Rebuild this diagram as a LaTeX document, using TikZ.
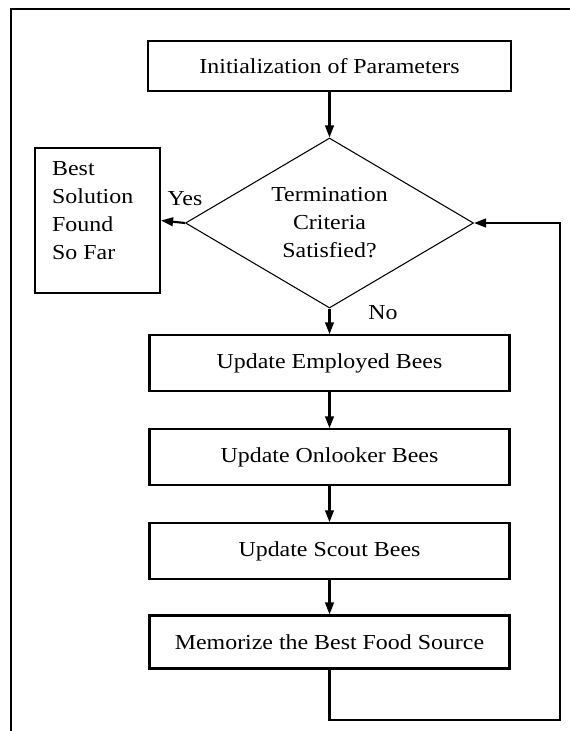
\documentclass[tikz,border=0pt]{standalone}
\usepackage{fontspec}
\setmainfont[FakeStretch=1.12]{Liberation Serif}
\usetikzlibrary{shapes.geometric, arrows.meta}

\begin{document}
\begin{tikzpicture}[x=0.75pt, y=-0.75pt,
  font=\fontsize{16}{21}\selectfont,
  box/.style={draw, line width=1.6pt, minimum width=270pt, minimum height=41.5pt, inner sep=0pt},
  decision/.style={draw, shape=diamond, shape aspect=1.69, line width=0.8pt, minimum width=216pt,
    minimum height=127.5pt, inner sep=0pt, align=center},
  flow/.style={line width=1.6pt, -{Triangle[length=9pt,width=6.5pt]}},
  framerule/.style={line width=1pt}]
\useasboundingbox (0,0) rectangle (570,731);

% page frame (left and top rules)
\coordinate (fbl) at (11,731);
\coordinate (ftl) at (11,9);
\coordinate (ftr) at (570,9);
\draw[framerule] (fbl) -- (ftl) -- (ftr);

% process steps
\node[box, minimum width=272.25pt, minimum height=37.5pt] (init) at (329.5,66) {Initialization of Parameters};
\node[decision] (dia) at (329.5,223) {Termination\\Criteria\\Satisfied?};
\node[draw, line width=1.6pt, minimum width=93.75pt, minimum height=108.75pt, inner sep=0pt,
  label={[anchor=north west, align=left, inner sep=0pt, xshift=13.5pt, yshift=-10.5pt]north west:Best\\Solution\\Found\\So Far}]
  (best) at (97.5,220.5) {};
\node[box] (emp) at (329.5,363) {Update Employed Bees};
\node[box] (onl) at (329.5,457) {Update Onlooker Bees};
\node[box] (sct) at (329.5,551) {Update Scout Bees};
\node[box, minimum height=39.75pt] (mem) at (329.5,642) {Memorize the Best Food Source};

% branch labels
\node (yes) at (185,199) {Yes};
\node (no) at (383,313) {No};

% connectors
\draw[flow] (init) -- (dia.north);
\draw[flow] (dia.west) -- (best.east);
\draw[flow] (dia.south) -- (emp);
\draw[flow] (emp) -- (onl);
\draw[flow] (onl) -- (sct);
\draw[flow] (sct) -- (mem);
\coordinate (loopbot) at (560,720);
\draw[flow] (mem.south) |- (loopbot) |- (dia.east);
\end{tikzpicture}
\end{document}
